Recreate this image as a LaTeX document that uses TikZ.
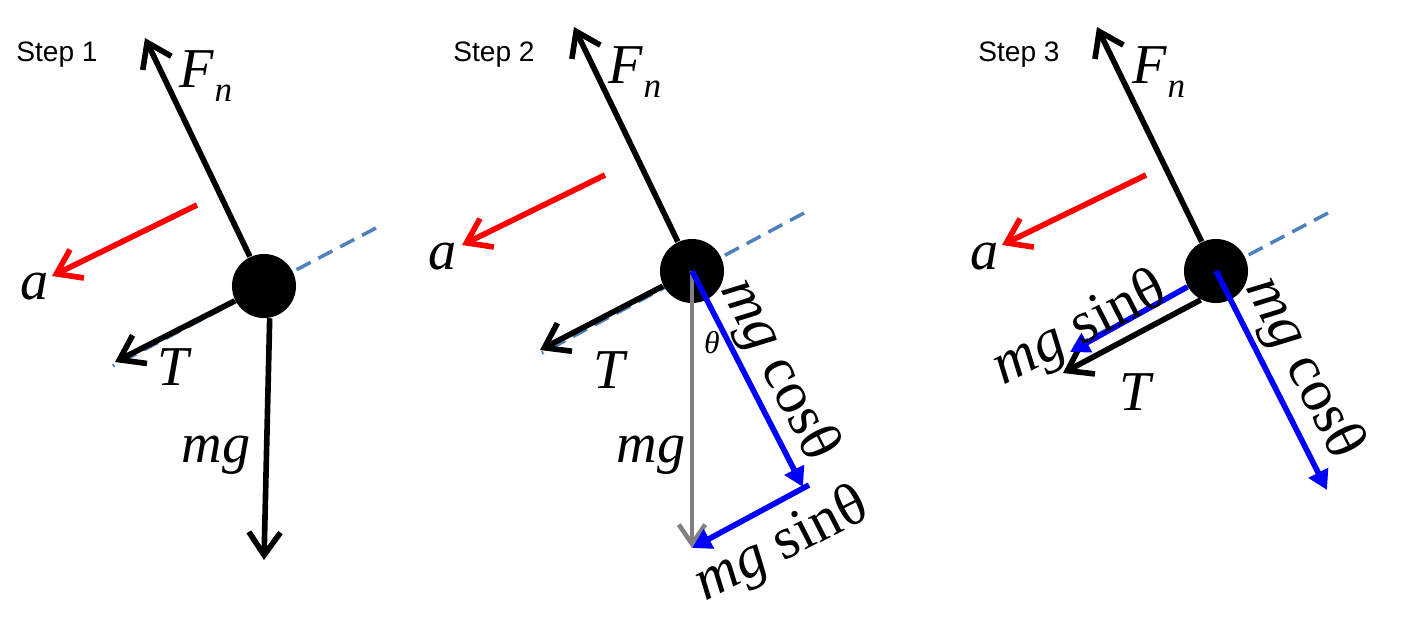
\documentclass[tikz,border=0pt]{standalone}
\usepackage{fontspec}
\setmainfont{Liberation Serif}
\newfontfamily\stepfont{Liberation Sans}
\usepackage{tikz}
\usetikzlibrary{arrows.meta,positioning}

\definecolor{axisblue}{RGB}{79,129,189}
\newcommand{\Fn}{\textit{F}\raisebox{-4pt}{\fontsize{10}{10}\selectfont\textit{n}}}

\begin{document}
\begin{tikzpicture}[x=0.01cm, y=-0.01cm,
  force/.style={line width=1.6pt, -{Straight Barb[length=6.5pt,width=9pt]}},
  accel/.style={force, red},
  gforce/.style={line width=1.3pt, gray, -{Straight Barb[length=5.5pt,width=7.5pt]}},
  comp/.style={line width=1.6pt, blue, -{Triangle[length=5.5pt,width=6pt]}},
  axis/.style={axisblue, line width=1pt, dash pattern=on 4.5pt off 2.5pt},
  mass/.style={circle, fill=black, inner sep=0pt, minimum size=0.64cm},
  lbl/.style={inner sep=0pt, font=\fontsize{16}{16}\selectfont},
  clbl/.style={inner sep=0pt, font=\fontsize{17}{17}\selectfont},
  steplbl/.style={inner sep=0pt, font=\stepfont\fontsize{8}{8}\selectfont}]
  \useasboundingbox (0,0) rectangle (1420,617);

  \coordinate (ax1s) at (376,228);
  \coordinate (ax1e) at (113,366);
  \coordinate (fn1) at (145,38);
  \coordinate (a1s) at (197,205);
  \coordinate (a1e) at (52,276);
  \coordinate (t1) at (115,362);
  \coordinate (mg1) at (264,560);
  \draw[axis] (ax1s) -- (ax1e);
  \node[mass] (ball1) at (264,286) {};
  \draw[force] (ball1) -- (fn1);
  \draw[force] (ball1) -- (t1);
  \draw[force] (ball1.-80) -- (mg1);
  \draw[accel] (a1s) -- (a1e);
  \node[steplbl] (step1) at (57,55) {Step 1};
  \node[lbl] (fnlbl1) at (206,76) {\Fn};
  \node[lbl] (albl1) at (35,287) {\textit{a}};
  \node[lbl] (tlbl1) at (175,367) {\textit{T}};
  \node[lbl] (mglbl1) at (216,455) {\textit{mg}};

  \coordinate (ax2s) at (804,213);
  \coordinate (ax2e) at (542,353);
  \coordinate (fn2) at (574,27);
  \coordinate (a2s) at (605,175);
  \coordinate (a2e) at (462,245);
  \coordinate (t2) at (540,350);
  \coordinate (mg2) at (692,548);
  \coordinate (c2) at (803,487);
  \coordinate (s2) at (809,485);
  \draw[axis] (ax2s) -- (ax2e);
  \node[mass] (ball2) at (692,271) {};
  \draw[force] (ball2) -- (fn2);
  \draw[force] (ball2) -- (t2);
  \draw[accel] (a2s) -- (a2e);
  \draw[gforce] (ball2.center) -- (mg2);
  \draw[comp] (ball2.center) -- (c2);
  \draw[comp] (s2) -- (mg2);
  \node[steplbl] (step2) at (494,55) {Step 2};
  \node[lbl] (fnlbl2) at (635,72) {\Fn};
  \node[lbl] (albl2) at (443,257) {\textit{a}};
  \node[lbl] (tlbl2) at (611,370) {\textit{T}};
  \node[inner sep=0pt, font=\fontsize{9}{9}\selectfont] (thlbl2) at (712,343) {\textit{θ}};
  \node[lbl] (mglbl2) at (651,455) {\textit{mg}};
  \node[clbl, rotate=-63] (cos2) at (778,370) {\textit{mg} cosθ};
  \node[clbl, rotate=27] (sin2) at (782,546) {\textit{mg} sinθ};

  \coordinate (ax3s) at (1328,213);
  \coordinate (ax3e) at (1072,348);
  \coordinate (fn3) at (1097,27);
  \coordinate (a3s) at (1146,175);
  \coordinate (a3e) at (1002,245);
  \coordinate (t3) at (1063,373);
  \coordinate (s3) at (1070,352);
  \coordinate (c3) at (1327,490);
  \draw[axis] (ax3s) -- (ax3e);
  \node[mass] (ball3) at (1216,271) {};
  \draw[force] (ball3) -- (fn3);
  \draw[force] (ball3.-118) -- (t3);
  \draw[accel] (a3s) -- (a3e);
  \draw[comp] (ball3) -- (s3);
  \draw[comp] (ball3.center) -- (c3);
  \node[steplbl] (step3) at (1019,55) {Step 3};
  \node[lbl] (fnlbl3) at (1159,72) {\Fn};
  \node[lbl] (albl3) at (985,257) {\textit{a}};
  \node[lbl] (tlbl3) at (1137,392) {\textit{T}};
  \node[clbl, rotate=27] (sin3) at (1080,330) {\textit{mg} sinθ};
  \node[clbl, rotate=-63] (cos3) at (1303,368) {\textit{mg} cosθ};
\end{tikzpicture}
\end{document}
